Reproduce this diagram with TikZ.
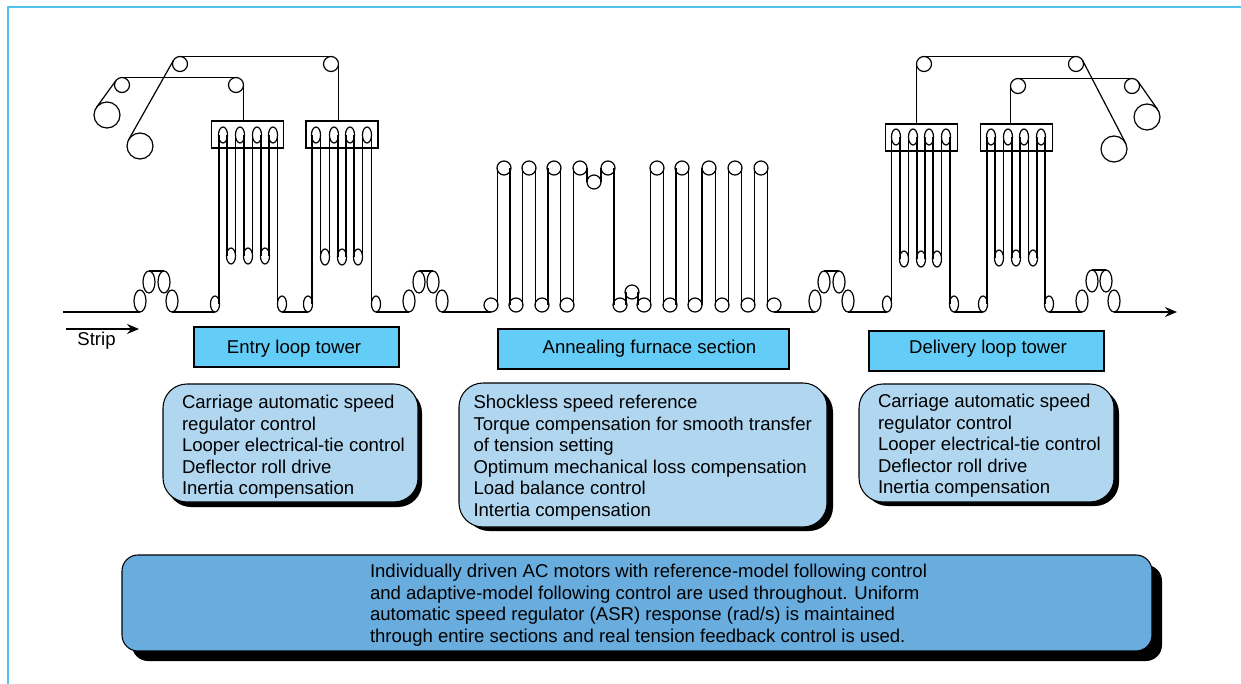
\documentclass[tikz,border=0pt]{standalone}
\usepackage{fontspec}
\setmainfont{Liberation Sans}
\usetikzlibrary{arrows.meta,shapes.geometric,calc}
\definecolor{framec}{HTML}{4FC3EA}
\definecolor{headc}{HTML}{63CDF7}
\definecolor{softc}{HTML}{B0D6F0}
\definecolor{basec}{HTML}{69ADDE}
\newcommand{\vrun}[2]{\coordinate (mid) at ($(#1)!.5!(#2)$); \draw[strip] (mid |- #1) -- (mid |- #2);}
\tikzset{
  strip/.style={line width=0.9pt,black},
  rollbase/.style={draw=black,line width=0.9pt,inner sep=0pt,outer sep=0pt},
  rollA/.style={rollbase,ellipse,minimum width=6.8pt,minimum height=12pt},
  rollB/.style={rollbase,ellipse,minimum width=9pt,minimum height=16.5pt},
  rollC/.style={rollbase,circle,minimum size=10.5pt},
  rollD/.style={rollbase,circle,minimum size=11.25pt},
  rollE/.style={rollbase,circle,minimum size=19.5pt},
  carriage/.style={rollbase,rectangle,minimum width=54pt,minimum height=20.25pt},
  headbox/.style={draw=black,line width=0.8pt,fill=headc},
  softbox/.style={draw=black,line width=0.8pt,fill=softc,rounded corners=18pt},
  softshade/.style={fill=black,rounded corners=18pt},
  basebox/.style={draw=black,line width=0.8pt,fill=basec,rounded corners=12pt},
  baseshade/.style={fill=black,rounded corners=12pt},
  label/.style={font=\fontsize{13.92}{16.1}\selectfont,inner sep=0pt,outer sep=0pt,text=black},
  note/.style={label,anchor=north west,align=left},
  tip/.style={-{Stealth[length=9pt,width=7.5pt,inset=3pt]}},
}
\begin{document}
\begin{tikzpicture}[x=0.75pt,y=-0.75pt]
\useasboundingbox (0,0) rectangle (1241,684);
% page frame
\coordinate (fa) at (8,684); \coordinate (fb) at (8,7); \coordinate (fc) at (1241,7);
\draw[framec,line width=1.5pt] (fa) -- (fb) -- (fc);

% ---------- rollers ----------
% entry triangle
\node[rollB] (ea) at (140,301) {}; \node[rollB] (eb) at (149,282) {};
\node[rollB] (ec) at (164,282) {}; \node[rollB] (ed) at (172,301) {};
% entry tower
\node[rollA] (p1) at (215,304) {};
\node[carriage] (b1) at (247.5,134.5) {};
\foreach \n/\x in {ua/223,ub/240,uc/257,ud/273} \node[rollA] (\n) at (\x,135) {};
\foreach \n/\x in {la/231,lb/248,lc/265} \node[rollA] (\n) at (\x,256) {};
\node[rollA] (p2) at (282,304) {};
\node[rollA] (p3) at (308,304) {};
\node[carriage] (b2) at (342,134.5) {};
\foreach \n/\x in {va/316,vb/334,vc/350,vd/367} \node[rollA] (\n) at (\x,135) {};
\foreach \n/\x in {ma/325,mb/342,mc/358} \node[rollA] (\n) at (\x,257) {};
\node[rollA] (p4) at (376,304) {};
% second triangle
\node[rollB] (fa1) at (409,301) {}; \node[rollB] (fb1) at (419,282) {};
\node[rollB] (fc1) at (433,282) {}; \node[rollB] (fd1) at (442,301) {};
% furnace
\foreach \n/\x in {fu1/504,fu2/529,fu3/554,fu4/580,fu5/608,fu6/657,fu7/682,fu8/709,fu9/735,fu10/761}
  \node[rollC] (\n) at (\x,168) {};
\node[rollC] (fdip) at (594,182) {};
\foreach \n/\x in {fl0/491,fl1/516,fl2/542,fl3/567,fl4/620,fl5/644,fl6/670,fl7/695,fl8/722,fl9/748,fl10/774}
  \node[rollC] (\n) at (\x,305) {};
\node[rollC] (frise) at (632,292) {};
% third triangle
\node[rollB] (ga) at (815,301) {}; \node[rollB] (gb) at (824,282) {};
\node[rollB] (gc) at (839,282) {}; \node[rollB] (gd) at (848,301) {};
% delivery tower
\node[rollA] (q1) at (887,304) {};
\node[carriage] (b3) at (921.5,137.5) {};
\foreach \n/\x in {wa/896,wb/913,wc/929,wd/946} \node[rollA] (\n) at (\x,137) {};
\foreach \n/\x in {na/904,nb/921,nc/937} \node[rollA] (\n) at (\x,259) {};
\node[rollA] (q2) at (954,304) {};
\node[rollA] (q3) at (983,304) {};
\node[carriage] (b4) at (1016.5,137.5) {};
\foreach \n/\x in {xa/991,xb/1008,xc/1024,xd/1041} \node[rollA] (\n) at (\x,137) {};
\foreach \n/\x in {oa/999,ob/1016,oc/1033} \node[rollA] (\n) at (\x,258) {};
\node[rollA] (q4) at (1049,304) {};
% exit triangle
\node[rollB] (ha) at (1082,301) {}; \node[rollB] (hb) at (1092,281) {};
\node[rollB] (hc) at (1106,281) {}; \node[rollB] (hd) at (1114,301) {};
% coils and deflectors, left
\node[rollE] (coilA) at (107,115) {};
\node[rollE] (coilB) at (140,146) {};
\node[rollD] (da) at (122,85) {};
\node[rollD] (db) at (236,85) {};
\node[rollD] (dc) at (180,64) {};
\node[rollD] (dd) at (331,64) {};
% coils and deflectors, right
\node[rollE] (coilC) at (1114,149) {};
\node[rollE] (coilD) at (1147,117) {};
\node[rollD] (de) at (924,64) {};
\node[rollD] (df) at (1076,64) {};
\node[rollD] (dg) at (1018,86) {};
\node[rollD] (dh) at (1132,86) {};

% ---------- strip ----------
\coordinate (start) at (63,312);
\coordinate (finish) at (1177,312);
\draw[strip] (start) -- (ea.south);
\draw[strip] (eb.north) -- (ec.north);
\draw[strip] (ed.south) -- (p1.south);
\draw[strip] (p2.south) -- (p3.south);
\draw[strip] (p4.south) -- (fa1.south);
\draw[strip] (fb1.north) -- (fc1.north);
\draw[strip] (fd1.south) -- (fl0.south);
\draw[strip] (fl10.south) -- (ga.south);
\draw[strip] (gb.north) -- (gc.north);
\draw[strip] (gd.south) -- (q1.south);
\draw[strip] (q2.south) -- (q3.south);
\draw[strip] (q4.south) -- (ha.south);
\draw[strip] (hb.north) -- (hc.north);
\draw[strip,tip] (hd.south) -- (finish);
\foreach \a/\b in {p1/ua,ua/la,la/ub,ub/lb,lb/uc,uc/lc,lc/ud,ud/p2,
                   p3/va,va/ma,ma/vb,vb/mb,mb/vc,vc/mc,mc/vd,vd/p4,
                   fl0/fu1,fu1/fl1,fl1/fu2,fu2/fl2,fl2/fu3,fu3/fl3,fl3/fu4,fu4/fdip,fdip/fu5,fu5/fl4,
                   fl4/frise,frise/fl5,fl5/fu6,fu6/fl6,fl6/fu7,fu7/fl7,fl7/fu8,fu8/fl8,fl8/fu9,fu9/fl9,fl9/fu10,fu10/fl10,
                   q1/wa,wa/na,na/wb,wb/nb,nb/wc,wc/nc,nc/wd,wd/q2,
                   q3/xa,xa/oa,oa/xb,xb/ob,ob/xc,xc/oc,oc/xd,xd/q4}
  {\vrun{\a}{\b}}
% overhead runs
\draw[strip] (coilA.145) -- (da.145);
\draw[strip] (da.north) -- (db.north);
\draw[strip] (db.east) -- (db.east |- b1.north);
\draw[strip] (coilB.152) -- (dc.152);
\draw[strip] (dc.north) -- (dd.north);
\draw[strip] (dd.east) -- (dd.east |- b2.north);
\draw[strip] (de.west) -- (de.west |- b3.north);
\draw[strip] (de.north) -- (df.north);
\draw[strip] (df.28) -- (coilC.28);
\draw[strip] (dg.west) -- (dg.west |- b4.north);
\draw[strip] (dg.north) -- (dh.north);
\draw[strip] (dh.35) -- (coilD.35);

% direction arrow
\coordinate (sa) at (66,329);
\coordinate (sb) at (139,329);
\draw[strip,tip] (sa) -- (sb);
\node[label] (striplabel) at (96.5,341) {Strip};

% ---------- section headers ----------
\path[headbox] (194,327) rectangle (399,367);
\node[label] (entry) at (294,349) {Entry loop tower};
\path[headbox] (498,329) rectangle (789,369);
\node[label] (anneal) at (649.5,349) {Annealing furnace section};
\path[headbox] (869,331) rectangle (1104,371);
\node[label] (delivery) at (988,349) {Delivery loop tower};

% ---------- feature boxes ----------
\path[softshade] (167,389) rectangle (422,507);
\path[softbox] (163,384) rectangle (418,502);
\node[note] (entrytext) at (182,395.5) {Carriage automatic speed\\regulator control\\Looper electrical-tie control\\Deflector roll drive\\Inertia compensation};

\path[softshade] (465,388) rectangle (833,531);
\path[softbox] (459,383) rectangle (827,527);
\node[note] (annealtext) at (473.5,395.5) {Shockless speed reference\\Torque compensation for smooth transfer\\of tension setting\\Optimum mechanical loss compensation\\Load balance control\\Intertia compensation};

\path[softshade] (864,389) rectangle (1119,506);
\path[softbox] (859,384) rectangle (1114,502);
\node[note] (deliverytext) at (878,394.5) {Carriage automatic speed\\regulator control\\Looper electrical-tie control\\Deflector roll drive\\Inertia compensation};

\path[baseshade] (132,565) rectangle (1162,661);
\path[basebox] (122,555) rectangle (1152,651);
\node[note] (basetext) at (370,564.5) {Individually driven AC motors with reference-model following control\\and adaptive-model following control are used throughout. Uniform\\automatic speed regulator (ASR) response (rad/s) is maintained\\through entire sections and real tension feedback control is used.};
\end{tikzpicture}
\end{document}
